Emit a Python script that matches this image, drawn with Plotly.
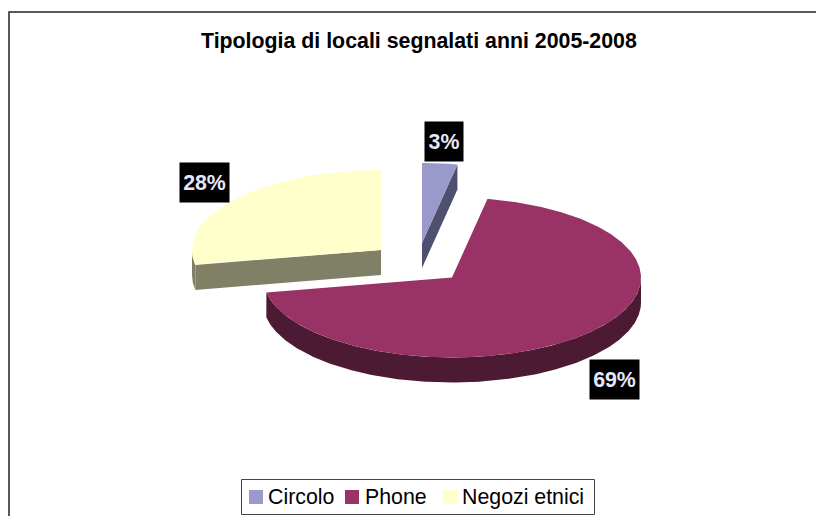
import math
import plotly.graph_objects as go

categories = ["Circolo", "Phone", "Negozi etnici"]
shares = [3, 69, 28]
labels = ["3%", "69%", "28%"]
top_colors = ["#9999CC", "#993366", "#FFFFCC"]
wall_colors = ["#4F4F70", "#4D1A33", "#808066"]

W, H = 816, 516
RX, RY, DEPTH = 189, 80, 25
centers = [(422, 243), (452, 277.5), (381, 250)]
label_pos = [(444, 141.5), (614.5, 379.5), (204.5, 182.5)]
label_size = [(38, 39), (49, 39), (49, 39)]
legend_swatch_x = [256, 352, 450]
legend_text_x = [265.5, 362.5, 459.5]
LEGEND_Y = 497


def arc(cx, cy, a0, a1, dy=0):
    n = max(2, int(abs(a1 - a0) * 2))
    pts = []
    for i in range(n + 1):
        a = math.radians(a0 + (a1 - a0) * i / n)
        pts.append((cx + RX * math.sin(a), cy + dy - RY * math.cos(a)))
    return pts


def poly(pts, color, name):
    return go.Scatter(
        x=[p[0] for p in pts] + [pts[0][0]],
        y=[p[1] for p in pts] + [pts[0][1]],
        mode="lines", fill="toself", fillcolor=color,
        line=dict(width=0, color=color), showlegend=False,
        name=name, hoverinfo="name",
    )


fig = go.Figure()
total = sum(shares)
starts = []
acc = 0
for s in shares:
    starts.append(acc / total * 360)
    acc += s

for i in [2, 0, 1]:
    cx, cy = centers[i]
    a0 = starts[i]
    a1 = a0 + shares[i] / total * 360
    name = categories[i]
    lo, hi = max(a0, 90), min(a1, 270)
    if lo < hi:
        top = arc(cx, cy, lo, hi)
        bot = arc(cx, cy, lo, hi, DEPTH)
        fig.add_trace(poly(top + bot[::-1], wall_colors[i], name))
    if a1 <= 90:
        e = arc(cx, cy, a1, a1)[0]
        fig.add_trace(poly([(cx, cy), e, (e[0], e[1] + DEPTH), (cx, cy + DEPTH)], wall_colors[i], name))
    if 180 < a0 < 270:
        e = arc(cx, cy, a0, a0)[0]
        fig.add_trace(poly([(cx, cy), e, (e[0], e[1] + DEPTH), (cx, cy + DEPTH)], wall_colors[i], name))
    fig.add_trace(poly([(cx, cy)] + arc(cx, cy, a0, a1), top_colors[i], name))

annotations = []
for lab, (x, y), (w, h) in zip(labels, label_pos, label_size):
    annotations.append(dict(
        x=x, y=y, xref="x", yref="y", text=f"<b>{lab}</b>", showarrow=False,
        font=dict(family="Liberation Sans", size=21.33, color="#E6E6FA"),
        bgcolor="#000000", width=w, height=h, borderpad=0, align="center", valign="middle",
    ))
annotations.append(dict(
    x=419, y=41, xref="x", yref="y", text="<b>Tipologia di locali segnalati anni 2005-2008</b>",
    showarrow=False, font=dict(family="Liberation Sans", size=21.33, color="#000000"),
))

# Legend: fixed spacing of the original cannot be reached by the native legend
fig.add_trace(go.Scatter(
    x=legend_swatch_x, y=[LEGEND_Y] * 3, mode="markers", showlegend=False, hoverinfo="skip",
    marker=dict(symbol="square", size=14, color=top_colors, line=dict(width=0)),
))
for name, x in zip(categories, legend_text_x):
    annotations.append(dict(
        x=x, y=LEGEND_Y, xref="x", yref="y", text=name, showarrow=False,
        xanchor="left", yanchor="middle", xshift=0,
        font=dict(family="Liberation Sans", size=21.33, color="#000000"),
    ))

fig.update_layout(
    width=W, height=H, margin=dict(l=0, r=0, t=0, b=0),
    paper_bgcolor="white", plot_bgcolor="white",
    xaxis=dict(range=[0, W], visible=False, fixedrange=True),
    yaxis=dict(range=[H, 0], visible=False, fixedrange=True),
    annotations=annotations,
    shapes=[
        dict(type="rect", xref="x", yref="y", x0=9, y0=12, x1=W + 20, y1=H + 20,
             line=dict(color="#222222", width=1.5), layer="below"),
        dict(type="rect", xref="x", yref="y", x0=241.5, y0=479.5, x1=594.5, y1=514.5,
             line=dict(color="#444444", width=1), layer="below"),
    ],
    showlegend=False,
)
fig.write_html(
    "out.html", config=dict(displayModeBar=False),
    post_script="document.body.style.margin='0';document.body.style.overflow='hidden';",
)
